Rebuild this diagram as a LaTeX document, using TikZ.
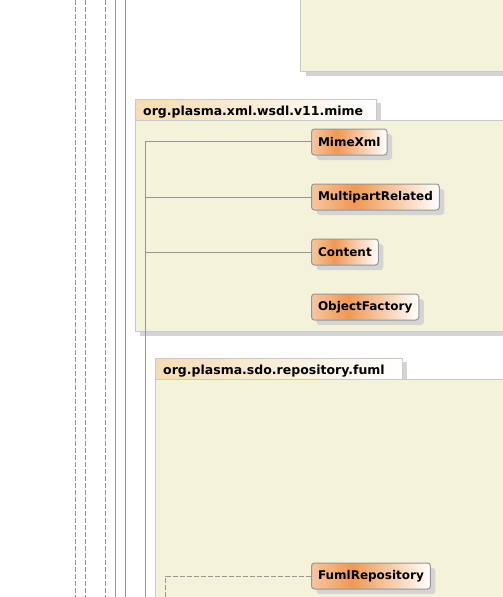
\documentclass[tikz,border=0pt]{standalone}
\usepackage{fontspec}
\setmainfont{DejaVu Sans}
\usetikzlibrary{shadows}
\definecolor{pkgfill}{RGB}{244,243,218}
\definecolor{pkgline}{RGB}{196,200,216}
\definecolor{tabfill}{RGB}{246,220,178}
\definecolor{shadowgray}{RGB}{212,212,212}
\definecolor{wireline}{RGB}{150,150,150}
\definecolor{clsline}{RGB}{150,150,150}
\definecolor{clsleft}{RGB}{246,198,160}
\definecolor{clsmid}{RGB}{240,152,84}
% orange peak at about a third of the box
\pgfdeclarehorizontalshading{clsshade}{100bp}{color(0bp)=(clsleft); color(25bp)=(clsleft);
	color(42bp)=(clsmid); color(75bp)=(white); color(100bp)=(white)}
\tikzset{
	pkgbody/.style={fill=pkgfill, draw=pkgline, line width=1pt},
	pkgtab/.style={left color=tabfill, right color=white, draw=pkgline, line width=1pt},
	pkgshadow/.style={fill=shadowgray, draw=none},
	pkglabel/.style={anchor=base west, inner sep=0pt, font=\bfseries\fontsize{12.5}{15}\selectfont},
	wire/.style={draw=wireline, line width=1pt},
	dashwire/.style={wire, dash pattern=on 5pt off 2pt},
	cls/.style={anchor=west, rounded corners=3pt, draw=clsline, line width=1pt,
		shading=clsshade, minimum height=26pt, inner xsep=6.5pt, inner ysep=0pt,
		font=\bfseries\fontsize{12}{14}\selectfont,
		drop shadow={shadow xshift=5pt, shadow yshift=-5pt, fill=shadowgray, opacity=1}},
}
\begin{document}
\begin{tikzpicture}[x=1pt, y=-1pt]
	\useasboundingbox (0,0) rectangle (503,597);
	% lifelines on the left
	\foreach \x [count=\i] in {75.5, 85.5, 105.5} {
		\coordinate (dtop\i) at (\x,0);
		\coordinate (dbot\i) at (\x,597);
		\draw[dashwire] (dtop\i) -- (dbot\i);
	}
	\foreach \x [count=\i] in {115.5, 125.5} {
		\coordinate (stop\i) at (\x,0);
		\coordinate (sbot\i) at (\x,597);
		\draw[wire] (stop\i) -- (sbot\i);
	}

	% package above (cut off)
	\fill[pkgshadow] (306,71) rectangle (510,76);
	\draw[pkgbody] (300.5,-5) rectangle (510,71);

	% package org.plasma.xml.wsdl.v11.mime
	\fill[pkgshadow] (377,103) rectangle (381,120);
	\fill[pkgshadow] (140,331) rectangle (510,336);
	\draw[pkgtab] (135.5,99.5) rectangle (376.5,120.5);
	\draw[pkgbody] (135.5,120.5) rectangle (510,331.5);
	\node[pkglabel] (mimelabel) at (143,115) {org.plasma.xml.wsdl.v11.mime};

	% package org.plasma.sdo.repository.fuml
	\fill[pkgshadow] (403,362) rectangle (407,379);
	\draw[pkgtab] (155.5,358.5) rectangle (402.5,379.5);
	\draw[pkgbody] (155.5,379.5) rectangle (510,605);
	\node[pkglabel] (fumllabel) at (163,374) {org.plasma.sdo.repository.fuml};

	% classes
	\node[cls] (mime) at (311,142) {MimeXml};
	\node[cls] (multi) at (311,197) {MultipartRelated};
	\node[cls] (content) at (311,252) {Content};
	\node[cls] (factory) at (311,307) {ObjectFactory};
	\node[cls] (fuml) at (311,576) {FumlRepository};

	% connectors
	\coordinate (mtop) at (145.5,141.5);
	\coordinate (mbot) at (145.5,597);
	\coordinate (fbot) at (165.5,597);
	\draw[wire] (mbot) -- (mtop) -- (mtop -| mime.west);
	\draw[wire] (mtop |- multi.west) -- (multi.west);
	\draw[wire] (mtop |- content.west) -- (content.west);
	\draw[dashwire] (fbot) |- (fuml.west);
\end{tikzpicture}
\end{document}
